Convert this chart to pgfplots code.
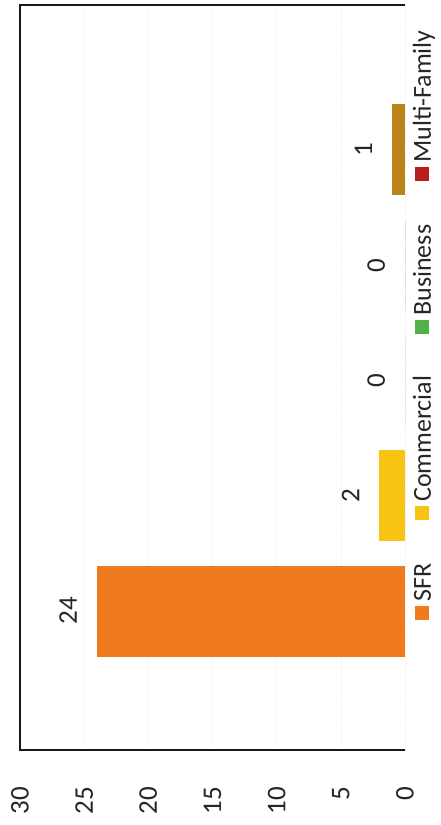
\documentclass[border=0pt]{standalone}
\usepackage{pgfplots}
\pgfplotsset{compat=1.18}
\usepackage{fontspec}
\setmainfont{Carlito}
\definecolor{cSFR}{HTML}{F07A1E}
\definecolor{cCom}{HTML}{F8C414}
\definecolor{cBus}{HTML}{52B04A}
\definecolor{cMF}{HTML}{B81E1E}
\definecolor{cBrown}{HTML}{BA8418}
\definecolor{txt}{HTML}{262626}
\newcommand{\bigf}{\fontsize{27}{32}\selectfont}
\newcommand{\legf}{\fontsize{26}{31}\selectfont}
\newcommand{\lsq}[1]{\textcolor{#1}{\rule[1.7pt]{14pt}{14pt}}\hspace{4pt}}
\begin{document}
\begin{tikzpicture}
\begin{axis}[
  scale only axis, clip=false,
  width=385pt, height=745pt,
  xbar, bar shift=0pt, bar width=91pt,
  xmin=0, xmax=30, x dir=reverse,
  ymin=-1.206, ymax=5.258,
  xtick={0,5,10,15,20,25,30},
  ytick=\empty,
  major tick length=0pt,
  axis line style={draw=none},
  xmajorgrids, grid style={black!10, dash pattern=on 1pt off 2pt},
  /pgf/number format/assume math mode=true,
  xticklabel style={rotate=90, anchor=east, inner sep=0pt, font=\bigf, text=txt},
  xticklabel shift=37pt,
  nodes near coords,
  nodes near coords style={font=\bigf, text=txt, rotate=90, anchor=south, inner sep=0pt, outer ysep=20pt},
]
\addplot[fill=cSFR, draw=none] coordinates {(24,0)};
\addplot[fill=cCom, draw=none] coordinates {(2,1)};
\addplot[fill=cBus, draw=none] coordinates {(0,2)};
\addplot[fill=cMF, draw=none] coordinates {(0,3)};
\addplot[fill=cBrown, draw=none] coordinates {(1,4)};
\draw[line width=1.4pt, black!90] (axis description cs:1,0) -- (axis description cs:0,0) -- (axis description cs:0,1) -- (axis description cs:1,1);
\node[rotate=90, anchor=base west, inner sep=0pt, font=\legf, text=txt]
  at (axis description cs:1.0675,0.1745)
  {\lsq{cSFR}SFR\hspace{44pt}\lsq{cCom}Commercial\hspace{42pt}\lsq{cBus}Business\hspace{44pt}\lsq{cMF}Multi-Family};
\coordinate (O) at (axis description cs:0,0);
\end{axis}
\pgfresetboundingbox
\path (O) ++(-20pt,-75pt) rectangle ++(440pt,825pt);
\end{tikzpicture}
\end{document}
